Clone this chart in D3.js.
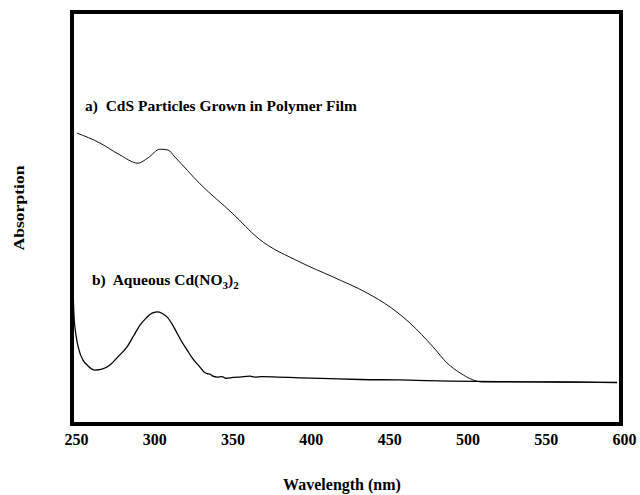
<!DOCTYPE html>
<html>
<head>
<meta charset="utf-8">
<script src="https://cdn.jsdelivr.net/npm/d3@7"></script>
<style>
  body { margin: 0; background: #fff; }
  text { font-family: "Liberation Serif", "Times New Roman", serif; font-weight: bold; fill: #000; }
</style>
</head>
<body>
<svg id="chart" width="640" height="495"></svg>
<script>
// wavelength (nm) / absorption (arb. units)
const filmWavelength = [252.6, 267.2, 280, 291.5, 297.9, 305.6, 310.7, 315.1, 331.1, 352.2, 368.2, 395, 416, 437.8, 452.5, 465.2, 480, 488.9, 497.2, 505.5, 511.2, 554.7, 597.5];
const filmAbsorption = [70.6, 68.2, 65.3, 63.3, 64.6, 66.7, 66.5, 64.8, 58.3, 51.0, 45.1, 39.3, 35.7, 31.8, 28.4, 24.5, 18.7, 14.8, 12.4, 10.7, 10.2, 10.2, 10.0];

const aqueousWavelength = [250, 250.6, 251.9, 253.8, 256.4, 259.6, 264, 268.5, 273.6, 278.7, 284.5, 289, 292.8, 296.7, 300.5, 304.3, 307.5, 310, 313.2, 316.4, 319.6, 322.8, 326.6, 331.1, 333.7, 335.6, 337.5, 339.4, 342, 345.2, 347.7, 352.2, 356.7, 363, 366, 370.7, 380.3, 395, 414, 433.3, 458.9, 490.8, 522.7, 561, 597.5];
const aqueousAbsorption = [33.0, 26.5, 21.6, 18.0, 15.5, 14.1, 13.1, 13.3, 14.3, 16.3, 18.7, 21.6, 24.0, 25.7, 26.9, 27.2, 26.7, 26.0, 24.3, 22.1, 19.9, 18.0, 15.8, 13.8, 12.6, 12.2, 12.1, 11.6, 11.4, 11.5, 11.1, 11.3, 11.4, 11.6, 11.4, 11.5, 11.4, 11.2, 11.0, 10.8, 10.7, 10.4, 10.3, 10.2, 10.1];

const xTicks = [250, 300, 350, 400, 450, 500, 550, 600];

const svg = d3.select('#chart');

const frame = { left: 72, top: 12, right: 621, bottom: 424 };

const x = d3.scaleLinear().domain([250, 600]).range([73, 621]);
const y = d3.scaleLinear().domain([0, 100]).range([424, 12]);

const line = d3.line()
  .x((d) => x(d[0]))
  .y((d) => y(d[1]))
  .curve(d3.curveMonotoneX);

const clip = svg.append('defs').append('clipPath').attr('id', 'plot-clip');
clip.append('rect')
  .attr('x', frame.left)
  .attr('y', frame.top)
  .attr('width', frame.right - frame.left)
  .attr('height', frame.bottom - frame.top);

const plot = svg.append('g').attr('clip-path', 'url(#plot-clip)');

plot.append('path')
  .attr('d', line(d3.zip(filmWavelength, filmAbsorption)))
  .attr('fill', 'none')
  .attr('stroke', '#111')
  .attr('stroke-width', 1);

plot.append('path')
  .attr('d', line(d3.zip(aqueousWavelength, aqueousAbsorption)))
  .attr('fill', 'none')
  .attr('stroke', '#000')
  .attr('stroke-width', 1.3);

// frame
svg.append('rect')
  .attr('x', frame.left)
  .attr('y', frame.top)
  .attr('width', frame.right - frame.left)
  .attr('height', frame.bottom - frame.top)
  .attr('fill', 'none')
  .attr('stroke', '#000')
  .attr('stroke-width', 4);

// x axis labels only
const xAxis = svg.append('g')
  .attr('transform', `translate(3, ${frame.bottom + 10})`)
  .call(d3.axisBottom(x).tickValues(xTicks).tickSize(0).tickPadding(0).tickFormat(d3.format('d')));
xAxis.select('.domain').remove();
xAxis.selectAll('text')
  .attr('font-family', '"Liberation Serif", serif')
  .attr('font-weight', 'bold')
  .attr('font-size', 16)
  .attr('dy', '0.71em');

svg.append('text')
  .attr('x', 342)
  .attr('y', 490)
  .attr('text-anchor', 'middle')
  .attr('font-size', 16)
  .text('Wavelength (nm)');

svg.append('text')
  .attr('transform', 'translate(24, 208) rotate(-90)')
  .attr('text-anchor', 'middle')
  .attr('font-size', 15)
  .attr('textLength', 85)
  .attr('lengthAdjust', 'spacingAndGlyphs')
  .text('Absorption');

// curve labels
svg.append('text')
  .attr('x', 85)
  .attr('y', 111)
  .attr('font-size', 15.5)
  .attr('textLength', 272)
  .attr('lengthAdjust', 'spacingAndGlyphs')
  .attr('xml:space', 'preserve')
  .text('a)  CdS Particles Grown in Polymer Film');

const labelB = svg.append('text')
  .attr('x', 92)
  .attr('y', 285)
  .attr('font-size', 15.5)
  .attr('xml:space', 'preserve');
labelB.append('tspan').text('b)  Aqueous Cd(NO');
labelB.append('tspan').attr('dy', 4).attr('font-size', 11).text('3');
labelB.append('tspan').attr('dy', -4).text(')');
labelB.append('tspan').attr('dy', 4).attr('font-size', 11).text('2');
</script>
</body>
</html>
